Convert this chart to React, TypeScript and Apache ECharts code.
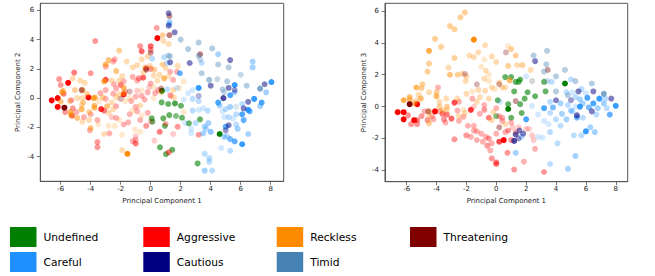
import React, { useEffect, useRef } from "react";
import * as echarts from "echarts";

const categories = ["Undefined", "Aggressive", "Reckless", "Threatening", "Careful", "Cautious", "Timid"];
const colors = ["#008000", "#ff0000", "#ff8c00", "#800000", "#1e90ff", "#000080", "#4682b4"];
const xTicks = [-6, -4, -2, 0, 2, 4, 6, 8];
const yTicks = [-4, -2, 0, 2, 4, 6];
const xTitle = "Principal Component 1";
const yTitles = ["Principal Component 2", "Principal Component 3"];

// [PC1, PC2, alpha]
const pc2Undefined = [[0.75,0.5,1],[4.6,-2.45,1],[3.29,-1.45,0.6],[3.13,-4.46,0.6],[2.55,-1.72,0.6],[2.09,-1.34,0.6],[2.02,-0.52,0.6],[1.17,-0.4,0.6],[1.62,-0.36,0.7],[0.73,-0.29,0.6],[1.24,-1.16,0.6],[1.69,-1.22,0.5],[0.84,-1.38,0.6],[0.07,-1.38,0.6],[0.11,-1.61,0.6],[0.95,-1.89,0.6],[0.62,-3.36,0.6],[1.02,-3.82,0.6],[1.44,-3.53,0.6]];
const pc2Aggressive = [[0.45,4.1,1],[0.4,4.8,0.35],[-6.6,-0.15,1],[-6.2,0.0,1],[-6.2,-0.6,1],[-5.5,1.05,1],[-4.15,0.05,1],[-1.8,0.25,0.9],[-3.3,-0.75,0.8],[-3.0,1.25,0.7],[-0.5,1.4,0.6],[-0.6,3.2,0.6],[0.0,3.55,0.6],[-5.25,-1.2,0.6],[-0.3,2.05,0.5],[-2.0,0.9,0.5],[-3.1,-0.85,0.5],[-5.1,1.75,0.5],[-5.8,0.3,0.5],[0.6,-2.3,0.5],[1.2,-3.7,0.5],[-1.0,-3.1,0.5],[3.2,-2.5,0.4],[1.8,-1.95,0.4],[-0.7,3.55,0.4],[0.0,3.3,0.4],[0.0,2.0,0.4],[-0.8,1.35,0.4],[-3.7,3.9,0.4],[-4.0,1.7,0.4],[-6.1,1.3,0.4],[-6.0,0.9,0.4],[-5.7,-0.95,0.4],[-5.3,-0.15,0.4],[-5.2,-0.7,0.4],[-3.55,-3.0,0.4],[-3.55,-3.35,0.4],[-0.3,-1.9,0.4],[1.0,-1.75,0.3],[1.3,0.2,0.3],[1.5,1.25,0.3],[1.75,1.8,0.3],[1.3,1.8,0.3],[0.0,1.0,0.3],[0.5,0.55,0.3],[0.3,0.35,0.3],[-0.2,0.4,0.3],[-1.2,1.45,0.3],[-0.9,1.2,0.3],[-1.8,1.15,0.3],[-2.45,0.95,0.3],[-2.3,0.65,0.3],[-1.7,0.45,0.3],[-2.5,0.3,0.3],[-1.3,-0.2,0.3],[-1.0,0.1,0.3],[-0.6,0.15,0.3],[-0.4,-0.1,0.3],[-1.0,-0.6,0.3],[-0.9,-0.9,0.3],[-1.4,-1.1,0.3],[-1.5,-1.65,0.3],[-1.8,-1.8,0.3],[-2.3,-1.35,0.3],[-2.3,-0.55,0.3],[-3.0,-0.05,0.3],[-3.35,0.35,0.3],[-3.0,0.55,0.3],[-2.5,2.5,0.3],[-2.4,2.65,0.3],[-3.0,2.15,0.3],[-4.95,-0.95,0.3],[-4.45,-1.3,0.3],[-4.0,-1.1,0.3],[-3.55,-1.5,0.3],[-4.05,-2.2,0.3],[-2.75,-2.4,0.3],[-1.2,-2.95,0.3],[-1.0,-2.85,0.3],[-0.7,-1.5,0.3],[-0.2,-1.0,0.3],[1.35,0.15,0.2],[-0.1,0.75,0.2],[-0.9,0.5,0.2],[-2.6,-1.3,0.2],[-1.0,-2.6,0.2],[0.0,-1.6,0.2],[0.25,-2.9,0.2],[1.5,-2.45,0.2]];
const pc2Reckless = [[-1.55,-3.8,1],[-3.8,0.0,0.7],[-3.1,1.15,0.7],[0.9,1.35,0.6],[-1.8,0.7,0.6],[-3.0,2.3,0.6],[-5.9,0.4,0.6],[-5.35,-0.95,0.6],[-5.3,-1.15,0.6],[-4.6,-0.75,0.6],[-3.75,-0.65,0.6],[-1.8,0.35,0.5],[-2.9,-0.55,0.5],[-2.3,1.85,0.5],[-2.8,2.6,0.5],[-5.85,0.5,0.5],[-6.0,-0.25,0.5],[-4.55,0.55,0.5],[-3.7,0.05,0.5],[-4.9,-1.35,0.5],[-3.75,-0.5,0.5],[-4.0,-2.05,0.5],[0.8,4.3,0.4],[0.8,2.3,0.4],[0.25,1.95,0.4],[-2.1,3.25,0.4],[-5.05,0.55,0.4],[-4.25,0.3,0.4],[-3.2,0.05,0.4],[-4.5,-0.3,0.4],[-4.1,-0.95,0.4],[0.85,3.9,0.3],[1.2,3.7,0.3],[0.7,0.4,0.3],[1.5,0.55,0.3],[1.55,0.05,0.3],[1.0,2.05,0.3],[0.6,1.6,0.3],[0.2,1.55,0.3],[-0.5,1.75,0.3],[0.45,1.2,0.3],[-0.2,2.85,0.3],[-0.6,2.65,0.3],[-1.2,2.1,0.3],[-0.9,2.25,0.3],[-0.4,2.1,0.3],[-0.05,2.2,0.3],[-1.6,2.5,0.3],[-1.9,1.5,0.3],[-2.1,1.2,0.3],[-2.1,0.25,0.3],[-2.3,0.05,0.3],[-0.7,-0.5,0.3],[-2.8,-1.0,0.3],[-2.5,-0.75,0.3],[-2.6,-0.3,0.3],[-2.6,1.2,0.3],[-4.4,1.05,0.3],[-5.2,1.35,0.3],[-4.7,1.2,0.3],[-4.55,0.0,0.3],[-4.9,0.0,0.3],[-5.4,-0.2,0.3],[-4.6,-0.45,0.3],[-4.55,-1.6,0.3],[-4.1,-1.5,0.3],[-3.1,-2.45,0.3],[-1.9,-3.55,0.3],[1.8,2.2,0.3],[1.2,1.5,0.25],[2.2,1.15,0.2],[1.9,0.7,0.2],[0.2,0.75,0.2],[-0.6,0.55,0.2],[-1.7,-0.2,0.2],[-1.2,-0.85,0.2],[-3.45,-0.2,0.2],[-3.5,-1.8,0.2],[-2.8,-1.9,0.2],[-2.4,-1.9,0.2],[-2.1,-1.5,0.2],[-1.9,-2.5,0.2],[-1.05,-2.15,0.2],[-0.7,-2.3,0.2],[-0.6,-1.2,0.2],[2.2,-0.95,0.2],[-1.4,0.0,0.2],[0.2,0.0,0.2]];
const pc2Threatening = [[-5.75,-0.65,1],[1.25,5.6,0.4],[1.25,4.3,0.5],[3.3,3.0,0.5],[0.7,0.65,0.4],[-0.3,1.95,0.5],[0.0,3.1,0.4],[-4.6,0.55,0.5],[-2.0,-0.05,0.3],[-1.4,0.45,0.3]];
const pc2Careful = [[1.25,5.2,0.4],[1.25,5.05,0.4],[3.4,2.4,0.3],[4.5,3.0,0.4],[1.1,2.4,0.3],[0.9,2.8,0.3],[0.1,2.7,0.3],[6.8,2.5,0.4],[6.8,2.1,0.4],[1.95,1.7,0.7],[5.6,0.9,0.9],[5.6,0.4,0.4],[5.3,0.2,0.8],[8.05,1.1,0.9],[7.7,0.4,0.4],[6.9,-0.05,0.9],[7.4,-0.3,0.8],[7.3,-0.55,0.4],[6.1,-0.4,0.3],[6.5,-0.8,0.9],[6.6,-0.9,0.7],[6.1,-1.1,0.8],[6.2,-1.5,0.7],[5.7,-1.1,0.3],[5.3,-0.6,0.4],[5.0,-0.75,0.3],[4.5,-0.3,0.8],[4.6,-0.5,0.4],[4.8,-0.9,0.2],[4.9,-1.3,0.2],[5.2,-1.3,0.3],[5.5,-1.4,0.2],[5.0,-1.95,0.7],[5.7,-1.8,0.3],[5.8,-2.1,0.4],[6.5,-2.45,0.4],[4.9,-2.65,0.4],[5.3,-2.8,0.6],[5.6,-2.95,0.7],[6.1,-3.15,0.9],[5.3,-3.6,0.3],[4.7,-3.4,0.2],[5.1,-2.6,0.3],[3.85,-1.7,0.4],[3.7,-2.1,0.3],[4.0,-2.3,0.5],[3.5,-2.4,0.4],[2.7,-2.4,0.2],[2.7,-2.1,0.2],[3.0,-1.7,0.3],[3.6,-1.95,0.4],[3.2,-0.8,0.2],[3.5,-0.7,0.2],[3.8,-0.85,0.3],[2.8,-0.85,0.3],[3.2,-0.2,0.3],[2.8,-0.05,0.3],[2.2,-0.1,0.2],[2.8,0.55,0.2],[3.2,0.7,0.9],[2.5,0.35,0.2],[3.6,-3.8,0.3],[3.9,-4.1,0.3],[3.9,-4.35,0.3],[3.6,-4.95,0.4],[4.1,-4.95,0.3],[2.3,-1.7,0.2],[1.1,0.6,0.3],[1.75,0.7,0.2]];
const pc2Cautious = [[1.2,5.8,0.5],[1.2,4.95,0.5],[1.6,4.5,0.5],[5.3,2.6,0.5],[2.6,2.4,0.5],[1.3,2.45,0.5],[4.0,0.85,0.5],[5.2,0.7,0.5],[5.6,0.55,0.4],[4.85,0.0,0.7],[7.6,0.95,0.5],[6.5,-0.25,0.5],[6.2,-0.7,0.5],[5.2,-1.85,0.5],[5.0,-2.2,0.4],[3.2,0.15,0.3]];
const pc2Timid = [[2.0,4.0,0.4],[3.2,3.8,0.4],[4.1,3.4,0.4],[2.5,3.35,0.4],[3.2,2.9,0.4],[3.3,2.65,0.3],[4.5,2.3,0.4],[5.2,2.1,0.4],[1.2,2.9,0.4],[1.3,2.85,0.3],[6.0,1.6,0.3],[3.4,1.7,0.4],[4.45,1.3,0.3],[3.9,1.25,0.5],[5.1,1.15,0.4],[4.8,0.6,0.4],[6.4,0.85,0.4],[4.9,0.4,0.3],[7.3,0.65,0.7],[5.7,-0.6,0.2]];

// [PC1, PC3, alpha]
const pc3Undefined = [[0.6,1.85,0.6],[1.0,1.85,0.6],[1.6,1.7,0.6],[1.3,1.55,0.6],[1.5,1.55,0.6],[1.2,0.95,0.6],[2.1,0.9,0.6],[2.6,0.65,0.6],[1.9,0.5,0.6],[3.2,1.55,0.6],[3.3,0.95,0.6],[4.6,1.45,1],[0.1,0.4,0.6],[0.8,0.15,0.6],[0.8,-0.15,1],[1.6,0.15,0.6],[1.7,-0.4,0.6],[0.0,-0.6,0.5],[1.0,-0.7,0.6]];
const pc3Aggressive = [[-6.6,-0.35,1],[-6.2,-0.35,1],[-6.2,-0.8,1],[-5.3,0.15,1],[-5.5,-0.85,1],[-5.3,-0.85,0.5],[-5.7,-1.1,0.4],[-5.3,-1.1,0.4],[-5.9,-0.55,0.4],[-5.0,-0.6,0.4],[-4.6,-0.85,0.4],[-4.1,-0.3,1],[-3.8,-0.3,0.3],[-3.6,-0.45,0.5],[-3.3,-0.5,0.5],[-3.0,-0.75,0.6],[-4.3,-0.6,0.3],[-3.5,-0.8,0.4],[-2.8,0.25,0.7],[-2.6,-0.25,0.3],[-2.2,-0.65,0.3],[-1.7,-0.2,0.8],[-2.5,-0.9,0.3],[-2.8,-2.05,0.4],[-1.9,-1.2,0.3],[-1.5,-1.5,0.3],[-2.0,-1.8,0.4],[-1.7,-1.9,0.3],[-1.5,-1.2,0.3],[-1.3,-1.55,0.3],[-1.0,-1.7,0.3],[-1.3,-2.1,0.3],[-0.7,-1.9,0.3],[-0.9,-2.2,0.3],[-0.5,-2.0,0.4],[-0.3,-2.3,0.3],[-0.6,-2.45,0.4],[-0.4,-2.75,0.3],[-0.3,-3.25,0.4],[0.0,-1.7,0.3],[0.2,-2.2,0.7],[0.5,-2.1,1],[0.0,-3.5,0.5],[0.0,-3.6,0.5],[0.75,-2.9,0.4],[1.2,-3.95,0.4],[1.85,-3.45,0.3],[2.6,-2.65,0.3],[3.2,-4.1,0.4],[-0.5,-0.7,0.5],[-0.8,-0.2,0.4],[-1.1,-0.45,0.3],[0.2,-0.6,0.3],[0.4,-0.9,0.3],[0.4,-0.7,0.3],[0.8,-1.5,0.4],[1.0,-1.0,0.3],[1.1,-1.3,0.2],[0.6,-1.6,0.3],[1.3,-1.6,0.3],[2.0,-1.4,0.2],[2.2,-1.4,0.2],[1.5,-1.3,0.2],[2.4,-1.8,0.2],[2.5,-2.1,0.2],[1.0,-2.1,0.4],[-3.9,1.2,0.3],[-2.5,0.3,0.3],[-1.5,0.0,0.2],[-0.8,0.1,0.3],[-1.6,0.5,0.3],[0.0,-0.1,0.3],[-4.8,-0.3,0.3],[-4.2,-0.8,0.3],[-3.4,-1.0,0.3]];
const pc3Reckless = [[-2.1,5.9,0.4],[-2.4,5.6,0.4],[-3.1,5.05,0.4],[-2.8,4.85,0.4],[-1.5,4.2,1],[-4.1,4.25,0.4],[-3.7,3.75,0.4],[-0.75,3.85,0.3],[-4.5,3.5,0.7],[-1.2,3.4,0.3],[-1.8,3.2,0.3],[-0.3,3.15,0.3],[-2.8,3.05,0.4],[-1.5,3.1,0.3],[-0.8,2.95,0.2],[0.0,2.8,0.3],[-4.5,2.7,0.4],[-3.2,2.45,0.3],[-1.0,2.5,0.2],[-4.6,2.2,0.4],[-3.1,2.0,0.5],[-2.6,2.0,0.4],[-2.3,2.05,0.3],[-2.0,1.9,0.3],[-2.05,1.6,0.3],[-0.7,2.25,0.3],[-0.5,2.0,0.2],[-0.8,1.75,0.3],[-0.5,1.6,0.2],[-0.3,1.2,0.3],[-1.2,1.05,0.3],[-0.75,1.0,0.3],[-1.6,0.95,0.2],[0.2,1.5,0.3],[-0.1,1.1,0.2],[0.4,1.2,0.3],[0.8,3.8,0.2],[1.0,3.6,0.4],[1.3,3.2,0.4],[0.8,2.55,0.4],[1.4,2.6,0.3],[1.75,2.6,0.4],[2.3,2.3,0.3],[2.4,1.6,0.2],[0.6,1.2,0.3],[0.9,1.65,0.6],[-6.2,0.4,0.7],[-5.8,0.6,0.5],[-5.8,0.45,0.5],[-5.5,0.2,0.4],[-5.4,0.35,0.3],[-5.35,1.2,0.6],[-4.95,1.4,0.4],[-5.0,1.15,0.4],[-5.1,0.5,0.4],[-5.0,0.5,0.3],[-5.2,0.75,0.3],[-4.5,0.9,0.3],[-4.0,0.65,0.6],[-4.0,0.9,0.4],[-3.8,0.3,0.3],[-3.8,0.0,0.4],[-3.6,-0.25,0.4],[-3.35,0.5,0.3],[-3.3,0.0,0.4],[-2.6,0.5,0.3],[-2.0,0.8,0.3],[-4.5,-0.6,0.3],[-4.5,-1.05,0.4],[-3.3,-0.2,0.3],[-2.2,-0.2,0.2],[-1.3,0.3,0.3],[-0.5,0.5,0.3],[-1.1,0.6,0.3],[-2.5,-0.6,0.3],[-2.1,-0.4,0.3],[-0.3,-0.85,0.3],[0.6,-1.1,0.3],[-0.2,-0.35,0.3],[-4.5,-0.3,0.4]];
const pc3Threatening = [[-5.8,0.15,1],[-4.55,-0.3,0.4],[-2.1,2.05,0.3],[-1.3,1.4,0.3],[0.2,1.4,0.3],[0.65,3.4,0.3],[1.3,0.35,0.4],[3.45,2.3,0.4],[0.2,-1.3,0.4]];
const pc3Careful = [[2.0,1.9,0.2],[3.7,1.55,0.3],[5.0,1.7,0.3],[2.4,1.6,0.2],[5.7,1.1,0.3],[4.7,0.9,0.3],[5.1,0.9,0.2],[6.0,0.85,0.2],[5.3,0.6,0.3],[5.6,0.45,0.4],[6.1,0.55,0.8],[6.9,0.5,0.9],[7.3,0.5,0.3],[3.6,0.3,0.3],[4.3,0.2,0.4],[4.8,0.1,0.3],[5.8,0.2,0.4],[6.5,0.2,0.8],[7.2,0.2,0.4],[8.0,0.05,0.9],[5.6,0.0,0.9],[6.2,-0.05,0.6],[5.3,0.0,0.2],[3.2,-0.1,0.8],[3.8,-0.05,0.6],[2.4,0.05,0.2],[5.1,-0.3,0.3],[6.8,-0.1,0.4],[7.4,-0.1,0.3],[5.0,-0.25,0.4],[3.6,-0.4,0.3],[2.8,-0.5,0.2],[4.4,-0.45,0.4],[5.8,-0.7,0.3],[7.6,-0.5,0.7],[6.7,-0.5,0.3],[4.0,-0.8,0.3],[3.2,-0.9,0.2],[4.7,-0.8,0.4],[5.4,-0.7,0.6],[2.0,-0.8,0.8],[3.5,-1.1,0.2],[4.3,-1.2,0.3],[6.3,-1.3,0.4],[6.6,-1.6,0.4],[6.0,-1.55,0.9],[5.2,-1.8,0.3],[5.7,-1.8,0.3],[3.6,-1.6,0.3],[3.1,-1.95,0.2],[2.8,-1.9,0.2],[4.1,-2.3,0.3],[5.3,-3.1,0.4],[3.6,-3.6,0.3],[4.8,-3.9,0.4],[1.3,-2.9,0.4],[1.7,-1.9,0.3],[0.25,0.3,0.2]];
const pc3Cautious = [[2.6,2.85,0.5],[5.5,0.95,0.5],[6.5,0.95,0.5],[7.7,0.5,0.5],[5.0,0.4,0.4],[4.0,0.4,0.5],[6.4,-0.3,0.5],[5.4,-0.55,0.6],[1.55,-1.5,0.5],[1.8,-1.7,0.5],[1.3,-1.75,0.6],[1.2,-2.15,0.7],[1.5,-2.0,0.4]];
const pc3Timid = [[2.5,3.2,0.4],[3.4,3.5,0.4],[3.35,2.65,0.4],[3.2,2.2,0.4],[4.6,2.3,0.4],[4.0,1.9,0.4],[3.4,1.6,0.3],[5.3,1.6,0.4],[6.4,1.45,0.4],[4.0,0.95,0.4],[7.2,0.8,0.7],[4.8,0.7,0.4]];

const pc2Sets = [pc2Undefined, pc2Aggressive, pc2Reckless, pc2Threatening, pc2Careful, pc2Cautious, pc2Timid];
const pc3Sets = [pc3Undefined, pc3Aggressive, pc3Reckless, pc3Threatening, pc3Careful, pc3Cautious, pc3Timid];

const FONT = "DejaVu Sans";

function makeAxes(gridIndex: number, min: number, max: number, ticks: number[], name: string, isX: boolean, nameGap: number) {
  return {
    gridIndex,
    type: "value",
    min,
    max,
    name,
    nameLocation: "middle",
    nameGap,
    nameTextStyle: { fontFamily: FONT, fontSize: 7, color: "#222" },
    splitLine: { show: false },
    axisLine: { show: true, onZero: false, lineStyle: { color: "#555", width: 1 } },
    axisTick: { show: true, inside: false, length: 3.5, customValues: ticks, lineStyle: { color: "#555", width: 0.8 } },
    axisLabel: {
      show: true,
      customValues: ticks,
      fontFamily: FONT,
      fontSize: 7,
      color: "#222",
      margin: isX ? 4 : 6,
    },
  };
}

export default function App() {
  const ref = useRef<HTMLDivElement>(null);
  useEffect(() => {
    if (!ref.current) return;
    const chart = echarts.init(ref.current, undefined, { renderer: "svg" });
    const series: any[] = [];
    [pc2Sets, pc3Sets].forEach((sets, gi) => {
      sets.forEach((pts, ci) => {
        const sorted = [...pts].sort((a, b) => a[2] - b[2]);
        series.push({
          type: "scatter",
          name: categories[ci],
          xAxisIndex: gi,
          yAxisIndex: gi,
          symbolSize: 6,
          itemStyle: { color: colors[ci] },
          data: sorted.map((p) => ({ value: [p[0], p[1]], itemStyle: { opacity: p[2] } })),
        });
      });
    });

    const legendCols = [10, 143.3, 276.7, 410];
    const legendRows = [227, 252];
    const legendOrder = [0, 1, 2, 3, 4, 5, 6];
    const graphic: any[] = [];
    legendOrder.forEach((ci, i) => {
      const col = i % 4;
      const row = Math.floor(i / 4);
      const x = legendCols[col];
      const y = legendRows[row];
      graphic.push({ type: "rect", left: x, top: y, shape: { width: 26.5, height: 20 }, style: { fill: colors[ci] } });
      graphic.push({
        type: "text",
        x: x + 33.5,
        y: y + 10,
        style: { text: categories[ci], fontFamily: FONT, fontSize: 10.7, fill: "#000", verticalAlign: "middle", align: "left" },
      });
    });

    chart.setOption({
      animation: false,
      grid: [
        { left: 40.3, top: 3.3, width: 243.4, height: 178, show: true, borderColor: "#555", borderWidth: 1, containLabel: false },
        { left: 385, top: 3.3, width: 242.7, height: 178.4, show: true, borderColor: "#555", borderWidth: 1, containLabel: false },
      ],
      xAxis: [
        makeAxes(0, -7.36, 8.87, xTicks, xTitle, true, 13.5),
        makeAxes(1, -7.45, 8.8, xTicks, xTitle, true, 13.5),
      ],
      yAxis: [
        makeAxes(0, -5.68, 6.48, yTicks, yTitles[0], false, 19),
        makeAxes(1, -4.71, 6.48, yTicks, yTitles[1], false, 18),
      ],
      series,
      graphic,
    });
    return () => chart.dispose();
  }, []);
  return <div ref={ref} style={{ position: "fixed", left: 0, top: 0, width: 655, height: 276, background: "#fff" }} />;
}
